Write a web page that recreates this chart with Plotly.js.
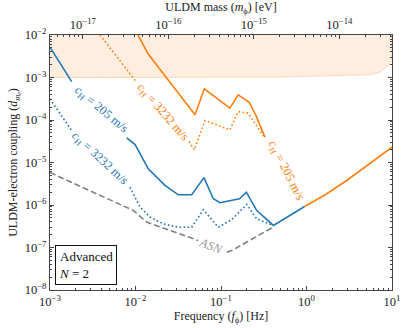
<!DOCTYPE html>
<html>
<head>
<meta charset="utf-8">
<script src="https://cdn.plot.ly/plotly-3.0.1.min.js"></script>
<style>
  html, body { margin: 0; padding: 0; background: #fff; }
  #chart { width: 407px; height: 328px; }
</style>
</head>
<body>
<div id="chart"></div>
<script>
// frequency range [Hz] and Planck constant for the mass axis (m = h f)
const freqRange = [1e-3, 10];
const planckEV = 4.1357e-15;

// tick decades
const freqDecades = [-3, -2, -1, 0, 1];
const massDecades = [-17, -16, -15, -14];
const couplingDecades = [-8, -7, -6, -5, -4, -3, -2];

// c_H = 205 m/s, blue solid (null = gap for inline label)
const blue205F = [1e-3, 1.79e-3, null, 7.9e-3, 9.9e-3, 0.0141, 0.0221, 0.0317, 0.0454, 0.0632, 0.0813, 0.0973, 0.164, 0.198, 0.262, 0.41, 0.95];
const blue205Y = [5.2e-3, 8.0e-4, null, 3.8e-5, 2.65e-5, 7.1e-6, 2.9e-6, 1.74e-6, 1.74e-6, 4.4e-6, 1.40e-6, 1.13e-6, 1.40e-6, 2.0e-6, 7.4e-7, 3.3e-7, 9.2e-7];

// c_H = 3232 m/s, blue dotted
const blue3232F = [1e-3, 1.79e-3, null, 8.6e-3, 0.0113, 0.0148, 0.0211, 0.0317, 0.0454, 0.0621, 0.0929, 0.133, 0.200, 0.262, 0.374, 0.41];
const blue3232Y = [3.15e-4, 5.66e-5, null, 2.62e-6, 8.9e-7, 5.2e-7, 3.6e-7, 3.0e-7, 3.0e-7, 7.7e-7, 3.0e-7, 4.5e-7, 1.03e-6, 4.7e-7, 3.6e-7, 3.3e-7];

// c_H = 205 m/s, orange solid
const orange205F = [0.0107, 0.014, 0.0497, 0.0638, 0.127, 0.159, 0.214, 0.256, 0.327, null, 0.95, 1.64, 2.95, 10];
const orange205Y = [1e-2, 3.6e-3, 1.33e-4, 5.42e-4, 1.9e-4, 3.92e-4, 2.62e-4, 1.28e-4, 3.94e-5, null, 9.2e-7, 1.72e-6, 3.77e-6, 2.29e-5];

// c_H = 3232 m/s, orange dotted
const orange3232F = [3.85e-3, 0.0103, null, 0.0423, 0.0488, 0.065, 0.127, 0.159, 0.208, 0.321];
const orange3232Y = [1e-2, 7.74e-4, null, 3.12e-5, 1.99e-5, 9.73e-5, 5.87e-5, 1.58e-4, 1.45e-4, 3.94e-5];

// atom shot noise
const asnF = [1e-3, 9.42e-3, 0.0135, 0.0497, 0.054, null, 0.117, 0.135, 0.42];
const asnY = [5.82e-6, 7.43e-7, 3.98e-7, 1.58e-7, 1.46e-7, null, 7.75e-8, 8.6e-8, 3.12e-7];

// excluded region (shaded band), lower edge
const bandF = [1e-3, 0.1, 0.49, 5.53, 7.24, 9.06, 10];
const bandLow = [1e-3, 1e-3, 1.02e-3, 1.16e-3, 1.33e-3, 1.91e-3, 2.5e-3];
const bandTop = 1e-1;

const BLUE = '#1f77b4';
const ORANGE = '#ff7f0e';
const GRAY = '#7f7f7f';
const FONT = 'Liberation Serif, DejaVu Serif, serif';
const DOT = '1.6px,2.4px';

const band = {
  x: bandF.concat(bandF.slice().reverse()),
  y: bandLow.concat(bandF.map(() => bandTop)),
  mode: 'lines',
  fill: 'toself',
  fillcolor: 'rgba(255,127,14,0.13)',
  line: { color: 'rgba(255,127,14,0.25)', width: 1 },
  hoverinfo: 'skip'
};

const line = (x, y, color, dash) => ({
  x, y, mode: 'lines',
  line: { color, width: 1.6, dash },
  connectgaps: false
});

const traces = [
  band,
  line(asnF, asnY, GRAY, '6px,3px'),
  line(blue3232F, blue3232Y, BLUE, DOT),
  line(blue205F, blue205Y, BLUE, 'solid'),
  line(orange3232F, orange3232Y, ORANGE, DOT),
  line(orange205F, orange205Y, ORANGE, 'solid'),
  // carries the top mass axis
  { x: freqRange.map(f => f * planckEV), y: [null, null], xaxis: 'x2', mode: 'lines', hoverinfo: 'skip' }
];

const label = (text, x, y, angle, color) => ({
  text, x, y, textangle: angle, showarrow: false,
  font: { family: FONT, size: 12.5, color }
});

const pow10 = n => '10<sup>' + (n < 0 ? '\u2212' + (-n) : n) + '</sup>';
const minorVals = decades => {
  const out = [];
  for (let d = decades[0] - 1; d <= decades[decades.length - 1]; d++) {
    for (let k = 2; k <= 9; k++) out.push(k * Math.pow(10, d));
  }
  return out;
};

const axisBase = decades => ({
  type: 'log',
  showgrid: false,
  zeroline: false,
  showline: true,
  linecolor: '#444',
  linewidth: 1,
  ticks: 'inside',
  ticklen: 4,
  tickcolor: '#444',
  tickmode: 'array',
  tickvals: decades.map(d => Math.pow(10, d)),
  ticktext: decades.map(pow10),
  tickfont: { family: FONT, size: 12.5, color: '#222' },
  minor: { ticks: 'inside', ticklen: 2, tickcolor: '#444', tickvals: minorVals(decades), showgrid: false }
});

const titleFont = { family: FONT, size: 12, color: '#222' };

const layout = {
  width: 407,
  height: 328,
  margin: { l: 50, r: 15, t: 35, b: 38 },
  paper_bgcolor: '#fff',
  plot_bgcolor: '#fff',
  showlegend: false,
  xaxis: Object.assign(axisBase(freqDecades), {
    range: [Math.log10(freqRange[0]), Math.log10(freqRange[1])],
    title: { text: 'Frequency (<i>f</i><sub>ϕ</sub>) [Hz]', font: titleFont, standoff: 3 }
  }),
  xaxis2: Object.assign(axisBase(massDecades), {
    overlaying: 'x',
    side: 'top',
    range: [Math.log10(freqRange[0] * planckEV), Math.log10(freqRange[1] * planckEV)],
    title: { text: 'ULDM mass (<i>m</i><sub>ϕ</sub>) [eV]', font: titleFont, standoff: 3 }
  }),
  yaxis: Object.assign(axisBase(couplingDecades), {
    range: [-8, -2],
    mirror: 'ticks',
    title: { text: 'ULDM-electron coupling (<i>d<sub>m<sub>e</sub></sub></i>)', font: titleFont, standoff: 4 }
  }),
  annotations: [
    label('<i>c</i><sub>H</sub> = 205 m/s', -2.404, -3.776, 40, BLUE),
    label('<i>c</i><sub>H</sub> = 3232 m/s', -2.415, -4.906, 43, BLUE),
    label('<i>c</i><sub>H</sub> = 3232 m/s', -1.678, -3.824, 49, ORANGE),
    label('<i>c</i><sub>H</sub> = 205 m/s', -0.251, -5.188, 63, ORANGE),
    label('<i>ASN</i>', -1.117, -6.953, 22, '#999'),
    {
      text: 'Advanced<br><i>N</i> = 2',
      xref: 'paper', yref: 'paper', x: 0.015, y: 0.02,
      xanchor: 'left', yanchor: 'bottom', align: 'left',
      showarrow: false, bgcolor: '#fff', bordercolor: '#111', borderwidth: 1, borderpad: 3,
      font: { family: FONT, size: 13, color: '#111' }
    }
  ]
};

Plotly.newPlot('chart', traces, layout, { displayModeBar: false, staticPlot: true });
</script>
</body>
</html>
